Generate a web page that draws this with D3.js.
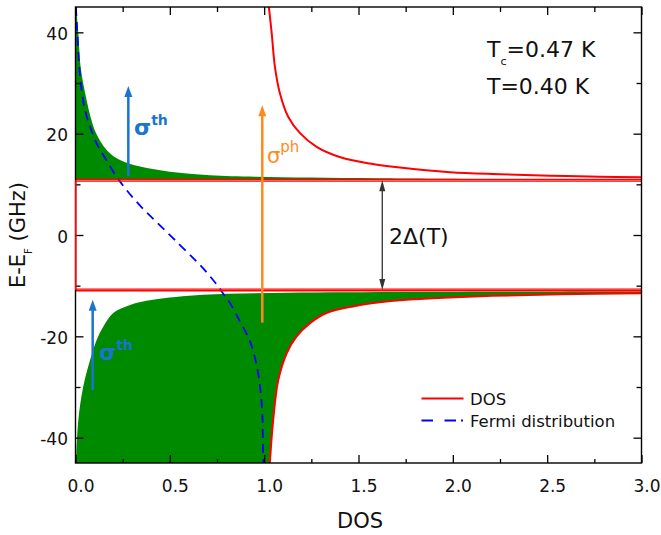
<!DOCTYPE html>
<html>
<head>
<meta charset="utf-8">
<script src="https://cdn.jsdelivr.net/npm/d3@7"></script>
<style>
  html, body { margin: 0; padding: 0; background: #fff; }
  svg { display: block; font-family: "DejaVu Sans", Verdana, sans-serif; }
</style>
</head>
<body>
<svg id="chart" width="661" height="535"></svg>
<script>
// Axis ticks
const xMajorTicks = [0, 0.5, 1, 1.5, 2, 2.5, 3];
const xTickLabels = ["0.0", "0.5", "1.0", "1.5", "2.0", "2.5", "3.0"];
const xMinorTicks = [0.25, 0.75, 1.25, 1.75, 2.25, 2.75];
const yMajorTicks = [-40, -20, 0, 20, 40];
const yTickLabels = ["-40", "-20", "0", "20", "40"];
const yMinorTicks = [-30, -10, 10, 30];

// Gap edges (GHz): +Δ and -Δ
const gapEdges = [10.8, -10.85];

// BCS density of states above the gap: [E (GHz), DOS]
const dosAbove = [
  [45, 1.025], [39.8, 1.04], [33.2, 1.057], [27.9, 1.084], [23.3, 1.128],
  [20.1, 1.19], [17.4, 1.278], [15.4, 1.40], [14.1, 1.56], [13.3, 1.72],
  [12.4, 1.985], [12.0, 2.25], [11.7, 2.515], [11.5, 2.78], [11.4, 3.0]
];
// Density of states below the gap: [E, DOS]
const dosBelow = [
  [-11.5, 3.0], [-11.7, 2.57], [-12.0, 2.21], [-12.4, 1.95], [-13.0, 1.684],
  [-14.1, 1.47], [-15.4, 1.33], [-17.4, 1.243], [-20.1, 1.17], [-23.3, 1.12],
  [-28.6, 1.075], [-36.5, 1.048], [-45, 1.03]
];
// Occupied quasiparticle states above the gap: [E, DOS·f]
const occupiedAbove = [
  [45, 0.004], [39.8, 0.015], [33.2, 0.027], [29.9, 0.041], [26.6, 0.059],
  [23.3, 0.08], [20.1, 0.109], [16.8, 0.165], [14.8, 0.236], [13.5, 0.342],
  [12.5, 0.50], [11.8, 0.713], [11.5, 0.96], [11.2, 1.6], [10.85, 3.0]
];
// Edge of the empty states below the gap: [E, DOS·(1-f)]
const emptyBelow = [
  [-45, 0.002], [-44.4, 0.003], [-36.5, 0.015], [-29.9, 0.041], [-24.7, 0.077],
  [-20.7, 0.112], [-18.1, 0.147], [-15.4, 0.20], [-13.8, 0.289], [-12.8, 0.41],
  [-11.8, 0.677], [-11.4, 1.12], [-11.25, 1.8], [-11.15, 3.0]
];
// Fermi distribution f(E): [E, f]
const fermi = [
  [45, 0.002], [42.4, 0.006], [39.8, 0.010], [33.2, 0.020], [28.6, 0.033],
  [24.7, 0.050], [21.4, 0.077], [18.1, 0.112], [14.8, 0.163], [11.5, 0.218],
  [8.9, 0.27], [5.9, 0.34], [2.96, 0.418], [0.65, 0.482], [-0.99, 0.527],
  [-3.3, 0.59], [-5.46, 0.648], [-7.7, 0.703], [-10.1, 0.755], [-12.2, 0.795],
  [-13.5, 0.82], [-16.8, 0.868], [-20.7, 0.922], [-25.3, 0.958], [-29.9, 0.978],
  [-35.2, 0.99], [-44.4, 0.995], [-45, 0.996]
];

// Transition arrows: DOS position, start and end energy
const thermalUpper = {dos: 0.28, from: 11.6, to: 29.4};
const thermalLower = {dos: 0.091, from: -30.6, to: -12.8};
const photonArrow  = {dos: 0.99, from: -17.3, to: 25.6};
const gapArrow     = {dos: 1.626, from: 10.8, to: -10.85};

const svg = d3.select("#chart");
const x = d3.scaleLinear().domain([0, 3]).range([75.5, 641.5]);
const y = d3.scaleLinear().domain([-45, 45]).range([463, 7]);

const GREEN = "#008a00", RED = "#ff0000", BLUE = "#0000ff";
const ARROW_BLUE = "#1b74d0", ORANGE = "#ff8a1c";

svg.append("defs").append("clipPath").attr("id", "plot")
  .append("rect").attr("x", x(0)).attr("y", y(45))
  .attr("width", x(3) - x(0)).attr("height", y(-45) - y(45));

const plot = svg.append("g").attr("clip-path", "url(#plot)");

const smooth = d3.curveCatmullRom.alpha(0.5);

// Occupied states above the gap
plot.append("path")
  .attr("d", d3.area().curve(smooth)
    .y(d => y(d[0])).x0(x(0)).x1(d => x(d[1]))(occupiedAbove))
  .attr("fill", GREEN);

// Occupied states below the gap: between the empty-state edge and the DOS
const edgeLine = d3.line().curve(smooth).x(d => x(d[1])).y(d => y(d[0]));
const leftPath = edgeLine(emptyBelow);
const rightPath = edgeLine(dosBelow).replace(/^M/, "L");
plot.append("path").attr("d", leftPath + rightPath + "Z").attr("fill", GREEN);

// Fermi distribution
plot.append("path")
  .attr("d", edgeLine(fermi))
  .attr("fill", "none").attr("stroke", BLUE).attr("stroke-width", 1.8)
  .attr("stroke-dasharray", "9,6");

// Density of states
const dosStyle = s => s.attr("fill", "none").attr("stroke", RED).attr("stroke-width", 2);
plot.append("path").attr("d", edgeLine(dosAbove)).call(dosStyle);
plot.append("path").attr("d", edgeLine(dosBelow)).call(dosStyle);
// gap edges, drawn as the curve leaving and re-entering at ±Δ
gapEdges.forEach(e => {
  [-0.8, 0.8].forEach(off => {
    plot.append("line")
      .attr("x1", x(0)).attr("x2", x(3))
      .attr("y1", y(e) + off).attr("y2", y(e) + off)
      .attr("stroke", RED).attr("stroke-width", 1.3);
  });
});

// Arrows
function arrow(spec, color, width, headW, headL, both) {
  const g = svg.append("g");
  const px = x(spec.dos), y0 = y(spec.from), y1 = y(spec.to);
  const dir = Math.sign(y1 - y0);
  g.append("line").attr("x1", px).attr("x2", px)
    .attr("y1", both ? y0 + dir * headL * 0.8 : y0).attr("y2", y1 - dir * headL * 0.8)
    .attr("stroke", color).attr("stroke-width", width);
  const head = (tipY, d) => g.append("path")
    .attr("d", `M${px},${tipY} L${px - headW / 2},${tipY - d * headL} L${px + headW / 2},${tipY - d * headL} Z`)
    .attr("fill", color);
  head(y1, dir);
  if (both) head(y0, -dir);
}
arrow(thermalUpper, ARROW_BLUE, 2.5, 8, 11, false);
arrow(thermalLower, ARROW_BLUE, 2.5, 8, 11, false);
arrow(photonArrow, ORANGE, 2.5, 8, 11, false);
arrow(gapArrow, "#333", 1.3, 6, 11, true);

// Arrow labels
function sigma(px, py, sup, color, bold, size, supSize, dx, dy) {
  const t = svg.append("text").attr("x", px).attr("y", py)
    .attr("fill", color).attr("font-size", size)
    .attr("font-weight", bold ? "bold" : "normal");
  t.append("tspan").text("σ");
  t.append("tspan").attr("dx", dx).attr("dy", dy).attr("font-size", supSize).text(sup);
}
sigma(134, 135, "th", ARROW_BLUE, true, 22, 14, 0, -10);
sigma(99, 360, "th", ARROW_BLUE, true, 22, 14, 0, -10);
sigma(267, 163, "ph", ORANGE, false, 21, 15, 0, -11);

svg.append("text").attr("x", 389).attr("y", 244).attr("font-size", 22)
  .attr("fill", "#111").text("2Δ(T)");

// Temperatures
const tc = svg.append("text").attr("x", 487).attr("y", 57).attr("font-size", 22).attr("fill", "#111");
tc.append("tspan").text("T");
tc.append("tspan").attr("dy", 8).attr("font-size", 11).text("c");
tc.append("tspan").attr("dy", -8).text("=0.47 K");
svg.append("text").attr("x", 487).attr("y", 94).attr("font-size", 22)
  .attr("fill", "#111").text("T=0.40 K");

// Legend
const lg = svg.append("g");
lg.append("line").attr("x1", 421.5).attr("x2", 463.5).attr("y1", 398.5).attr("y2", 398.5)
  .attr("stroke", RED).attr("stroke-width", 2);
lg.append("text").attr("x", 470).attr("y", 404.5).attr("font-size", 16.5).attr("fill", "#111").text("DOS");
lg.append("line").attr("x1", 421.5).attr("x2", 463.5).attr("y1", 420.5).attr("y2", 420.5)
  .attr("stroke", BLUE).attr("stroke-width", 2).attr("stroke-dasharray", "11.5,11.5,11.5,5,2,10");
lg.append("text").attr("x", 470).attr("y", 426.5).attr("font-size", 16.5).attr("fill", "#111").text("Fermi distribution");

// Axes: ticks point into the plot on all four sides
const axisStyle = g => {
  g.select(".domain").remove();
  g.selectAll(".tick line").attr("stroke", "#000").attr("stroke-width", 1.3);
};
svg.append("g").attr("transform", `translate(0,${y(-45)})`)
  .call(d3.axisBottom(x).tickValues(xMajorTicks).tickSize(-8).tickPadding(17)
    .tickFormat((d, i) => xTickLabels[i]))
  .call(axisStyle)
  .call(g => g.selectAll("text").attr("dx", 5).attr("font-size", 17)
    .attr("font-family", "DejaVu Sans").attr("fill", "#111"));
svg.append("g").attr("transform", `translate(0,${y(-45)})`)
  .call(d3.axisBottom(x).tickValues(xMinorTicks).tickSize(-4).tickFormat(""))
  .call(axisStyle);
svg.append("g").attr("transform", `translate(0,${y(45)})`)
  .call(d3.axisTop(x).tickValues(xMajorTicks).tickSize(-8).tickFormat(""))
  .call(axisStyle);
svg.append("g").attr("transform", `translate(0,${y(45)})`)
  .call(d3.axisTop(x).tickValues(xMinorTicks).tickSize(-5).tickFormat(""))
  .call(axisStyle);

svg.append("g").attr("transform", `translate(${x(0)},0)`)
  .call(d3.axisLeft(y).tickValues(yMajorTicks).tickSize(-8).tickPadding(7.5)
    .tickFormat((d, i) => yTickLabels[i]))
  .call(axisStyle)
  .call(g => g.selectAll("text").attr("dy", "0.42em").attr("font-size", 17)
    .attr("font-family", "DejaVu Sans").attr("fill", "#111"));
svg.append("g").attr("transform", `translate(${x(0)},0)`)
  .call(d3.axisLeft(y).tickValues(yMinorTicks).tickSize(-5).tickFormat(""))
  .call(axisStyle);
svg.append("g").attr("transform", `translate(${x(3)},0)`)
  .call(d3.axisRight(y).tickValues(yMajorTicks).tickSize(-8).tickFormat(""))
  .call(axisStyle);
svg.append("g").attr("transform", `translate(${x(3)},0)`)
  .call(d3.axisRight(y).tickValues(yMinorTicks).tickSize(-5).tickFormat(""))
  .call(axisStyle);

// Frame
svg.append("rect").attr("x", x(0)).attr("y", y(45))
  .attr("width", x(3) - x(0)).attr("height", y(-45) - y(45))
  .attr("fill", "none").attr("stroke", "#000").attr("stroke-width", 1.4);
// zero DOS inside the gap, on top of the left frame edge
svg.append("line")
  .attr("x1", x(0) + 0.3).attr("x2", x(0) + 0.3)
  .attr("y1", y(gapEdges[0])).attr("y2", y(gapEdges[1]))
  .attr("stroke", RED).attr("stroke-width", 1.6);

// Axis titles
svg.append("text").attr("x", 360).attr("y", 528).attr("text-anchor", "middle")
  .attr("font-size", 21).attr("fill", "#111").text("DOS");
const yl = svg.append("text").attr("transform", "translate(25,235) rotate(-90)")
  .attr("text-anchor", "middle").attr("font-size", 21).attr("fill", "#111");
yl.append("tspan").text("E-E");
yl.append("tspan").attr("dy", 7).attr("font-size", 10).text("F");
yl.append("tspan").attr("dy", -7).text(" (GHz)");
</script>
</body>
</html>
